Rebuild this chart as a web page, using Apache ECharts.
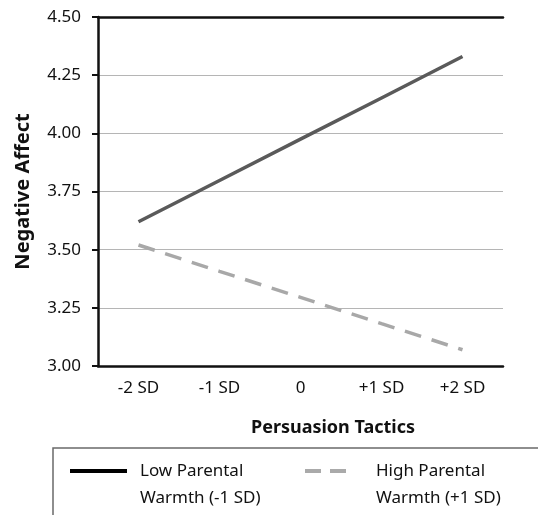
<!DOCTYPE html>
<html><head><meta charset="utf-8">
<script src="https://cdn.jsdelivr.net/npm/echarts@6/dist/echarts.min.js"></script>
<style>html,body{margin:0;padding:0;background:#fff}#c{width:538px;height:515px}</style>
</head><body><div id="c"></div>
<script>
const categories = ['-2 SD', '-1 SD', '0', '+1 SD', '+2 SD'];
const lowWarmth = [3.62, 3.797, 3.975, 4.152, 4.33];
const highWarmth = [3.52, 3.407, 3.295, 3.182, 3.07];
const yTicks = [3.00, 3.25, 3.50, 3.75, 4.00, 4.25, 4.50];
const legendLines1 = ['Low Parental', 'Warmth (-1 SD)'];
const legendLines2 = ['High Parental', 'Warmth (+1 SD)'];
const xTitle = 'Persuasion Tactics';
const yTitle = 'Negative Affect';

const font = 'Noto Sans';
const chart = echarts.init(document.getElementById('c'));
chart.setOption({
  animation: false,
  grid: {left: 98, right: 35, top: 17, bottom: 149, containLabel: false},
  xAxis: [{
    type: 'category', data: categories, boundaryGap: true,
    axisLine: {lineStyle: {color: '#111', width: 2.5}},
    axisTick: {show: false},
    axisLabel: {color: '#111', fontFamily: font, fontSize: 17, margin: 14}
  }, {
    type: 'category', data: categories, position: 'top',
    axisLine: {lineStyle: {color: '#111', width: 2.5}},
    axisTick: {show: false}, axisLabel: {show: false}
  }],
  yAxis: {
    type: 'value', min: yTicks[0], max: yTicks[yTicks.length - 1], interval: 0.25,
    name: yTitle, nameLocation: 'middle', nameGap: 65,
    nameTextStyle: {fontFamily: font, fontSize: 20, fontWeight: 'bold', color: '#111'},
    axisLine: {show: true, lineStyle: {color: '#111', width: 2.5}},
    axisTick: {show: true, length: 6, lineStyle: {color: '#111', width: 2}},
    axisLabel: {color: '#111', fontFamily: font, fontSize: 17, margin: 17,
      formatter: v => v.toFixed(2)},
    splitLine: {lineStyle: {color: '#b5b5b5', width: 1.2}}
  },
  graphic: [
    {type: 'text', x: 333, y: 428,
      style: {text: xTitle, font: 'bold 18px "Noto Sans"', fill: '#111', align: 'center', verticalAlign: 'middle'}},
    {type: 'rect', shape: {x: 53, y: 448, width: 520, height: 100},
      style: {fill: 'none', stroke: '#6a6a6a', lineWidth: 1.5}},
    {type: 'line', shape: {x1: 70, y1: 471, x2: 127, y2: 471},
      style: {stroke: '#000', lineWidth: 4}},
    {type: 'text', x: 140, y: 471,
      style: {text: legendLines1[0], font: '17px "Noto Sans"', fill: '#111', verticalAlign: 'middle'}},
    {type: 'text', x: 140, y: 498,
      style: {text: legendLines1[1], font: '17px "Noto Sans"', fill: '#111', verticalAlign: 'middle'}},
    {type: 'line', shape: {x1: 305, y1: 471, x2: 350, y2: 471},
      style: {stroke: '#aaa', lineWidth: 4, lineDash: [16, 9]}},
    {type: 'text', x: 376, y: 471,
      style: {text: legendLines2[0], font: '17px "Noto Sans"', fill: '#111', verticalAlign: 'middle'}},
    {type: 'text', x: 376, y: 498,
      style: {text: legendLines2[1], font: '17px "Noto Sans"', fill: '#111', verticalAlign: 'middle'}}
  ],
  series: [
    {name: legendLines1.join(' '), type: 'line', data: lowWarmth, symbol: 'none',
      lineStyle: {color: '#5a5a5a', width: 3.5}, itemStyle: {color: '#5a5a5a'}},
    {name: legendLines2.join(' '), type: 'line', data: highWarmth, symbol: 'none',
      lineStyle: {color: '#a8a8a8', width: 3.5, type: [17, 11]}, itemStyle: {color: '#a8a8a8'}}
  ]
});
</script></body></html>
